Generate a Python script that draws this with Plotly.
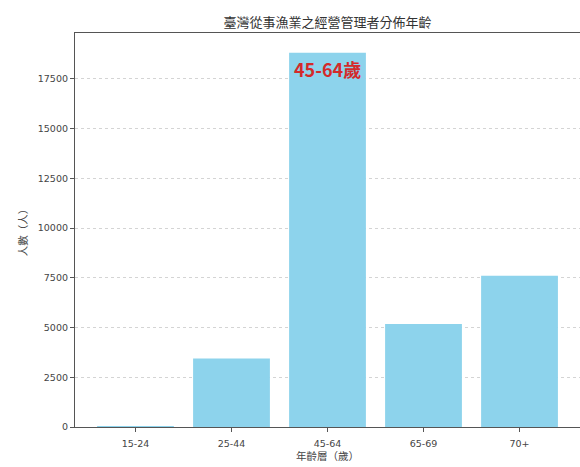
import plotly.graph_objects as go

categories = ["15-24", "25-44", "45-64", "65-69", "70+"]
counts = [30, 3440, 18810, 5170, 7605]
y_ticks = [0, 2500, 5000, 7500, 10000, 12500, 15000, 17500]
title_text = "臺灣從事漁業之經營管理者分佈年齡"
x_title = "年齡層（歲）"
y_title = "人數（人）"
highlight_label = "45-64歲"
highlight_cat = "45-64"

FONT = "DejaVu Sans, Noto Sans CJK TC, sans-serif"
CJK = "Noto Sans CJK TC, sans-serif"

fig = go.Figure()
fig.add_trace(go.Bar(
    x=list(range(len(categories))),
    y=counts,
    width=0.8,
    marker=dict(color="#8dd3ec", line=dict(width=0)),
    showlegend=False,
))

hi_idx = categories.index(highlight_cat)
fig.add_annotation(
    x=hi_idx, y=counts[hi_idx], xref="x", yref="y",
    text="<b>" + highlight_label + "</b>",
    showarrow=False, yanchor="top", yshift=-1,
    font=dict(family=CJK, size=18, color="#d42a2a"),
)

fig.update_layout(
    width=580, height=467,
    margin=dict(l=75, r=0, t=33, b=40, autoexpand=False),
    paper_bgcolor="white", plot_bgcolor="white",
    title=dict(text=title_text, x=0.5, xanchor="center", xref="paper",
               y=1 - 22 / 467, yanchor="middle",
               font=dict(family=CJK, size=13, color="#333333")),
    font=dict(family=FONT, size=9.5, color="#444444"),
    bargap=0.2,
)

fig.update_xaxes(
    range=[-0.63, 4.63],
    tickmode="array",
    tickvals=list(range(len(categories))),
    ticktext=categories,
    showline=True, linecolor="#555555", linewidth=1.2, mirror=True,
    ticks="outside", ticklen=4, tickcolor="#555555",
    ticklabelstandoff=3,
    showgrid=False, zeroline=False,
    title=dict(text=x_title, font=dict(family=CJK, size=10.5, color="#444444"), standoff=4),
)

fig.update_yaxes(
    range=[0, 19800],
    tickmode="array",
    tickvals=y_ticks,
    ticktext=[str(v) for v in y_ticks],
    showline=True, linecolor="#555555", linewidth=1.2, mirror=True,
    ticks="outside", ticklen=4, tickcolor="#555555",
    showgrid=True, gridcolor="#d4d4d4", griddash="3px,3px", gridwidth=1,
    zeroline=False,
    title=dict(text=y_title, font=dict(family=CJK, size=10.5, color="#444444"), standoff=8),
)

fig.write_html(
    "out.html",
    config={"displayModeBar": False},
    post_script="document.body.style.margin='0';document.body.style.overflow='hidden';",
)
